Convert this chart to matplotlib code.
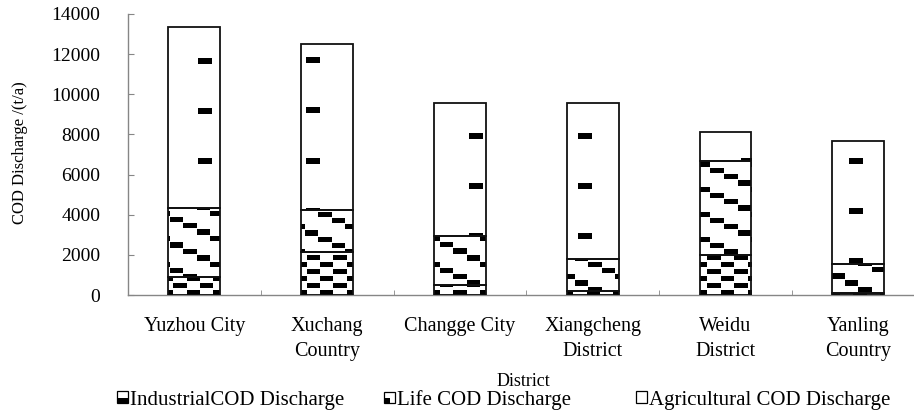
import numpy as np
import matplotlib
matplotlib.use("Agg")
import matplotlib.pyplot as plt
from matplotlib.patches import Rectangle
from matplotlib.legend_handler import HandlerBase

districts = ["Yuzhou City", "Xuchang\nCountry", "Changge City", "Xiangcheng\nDistrict",
             "Weidu\nDistrict", "Yanling\nCountry"]
industrial = [880, 2130, 500, 215, 1990, 100]
life = [3470, 2090, 2450, 1580, 4670, 1450]
agricultural = [9000, 8300, 6600, 7750, 1440, 6100]
series_names = ["IndustrialCOD Discharge", "Life COD Discharge", "Agricultural COD Discharge"]
yticks = [0, 2000, 4000, 6000, 8000, 10000, 12000, 14000]

plt.rcParams['font.family'] = ['Liberation Serif', 'DejaVu Serif']

W, H = 914, 413
fig = plt.figure(figsize=(W / 100, H / 100), dpi=100)
axL, axR, axT, axB = 128, 914, 14, 295
ax = fig.add_axes([axL / W, (H - axB) / H, (axR - axL) / W, (axB - axT) / H])
xmin, xmax = -0.5, 5.42
ax.set_xlim(xmin, xmax)
ax.set_ylim(0, 14000)

# texture patterns in figure-pixel coordinates
nx, ny = axR - axL, axB - axT
X, Y = np.meshgrid(np.arange(nx) + axL + 0.5, np.arange(ny) + axT + 0.5)

k = np.floor((X - 198) / 54.25)
dx = X - 198 - 54.25 * k
pat_agri = (dx < 14) & (np.mod(Y - 58 - 25 * k, 50) < 6)

k = np.floor((X - 170) / 13.5)
pat_life = np.mod(Y - 218 - 6.25 * k, 25) < 5.2

c = np.floor((X - 306.7) / 13.33).astype(int)
rowA = np.mod(Y - 255, 14) < 5.4
rowB = np.mod(Y - 262, 14) < 5.4
pat_ind = (rowA & (c % 2 == 0)) | (rowB & (c % 2 == 1))

def rgba(p):
    a = np.zeros(p.shape + (4,))
    a[p] = [0, 0, 0, 1]
    return a

x = np.arange(len(districts))
width = 0.39
bottoms = [np.zeros(len(x)), np.array(industrial, float),
           np.array(industrial, float) + np.array(life, float)]
for vals, bot, pat in zip([industrial, life, agricultural], bottoms,
                          [pat_ind, pat_life, pat_agri]):
    bars = ax.bar(x, vals, width, bottom=bot, color="white", edgecolor="none", zorder=2)
    img = rgba(pat)
    for b in bars:
        im = ax.imshow(img, extent=[xmin, xmax, 0, 14000], aspect="auto",
                       interpolation="nearest", origin="upper", zorder=3)
        im.set_clip_path(b)
    ax.bar(x, vals, width, bottom=bot, fill=False, edgecolor="#111111",
           linewidth=1.3, zorder=4)
ax.set_xlim(xmin, xmax)
ax.set_ylim(0, 14000)

for s in ["top", "right"]:
    ax.spines[s].set_visible(False)
for s in ["left", "bottom"]:
    ax.spines[s].set_color("#868686")
    ax.spines[s].set_linewidth(1.0)

ax.set_yticks(yticks)
ax.set_yticklabels([str(v) for v in yticks], fontsize=14)
ax.tick_params(axis="y", direction="in", length=4.5, color="#868686", pad=20)
ax.set_xticks(x)
ax.set_xticklabels(districts, fontsize=14.5, linespacing=1.4, va="top")
ax.tick_params(axis="x", which="major", length=0, pad=16)
ax.set_xticks(np.arange(0.5, 5.0, 1.0), minor=True)
ax.tick_params(axis="x", which="minor", direction="in", length=3.5, color="#868686")

fig.text(20 / W, 1 - 153 / H, "COD Discharge /(t/a)", rotation=90, fontsize=12,
         ha="center", va="center")
fig.text(523 / W, 1 - 381 / H, "District", fontsize=13, ha="center", va="center")


class Icon(HandlerBase):
    def __init__(self, frac, left_only=False):
        super().__init__()
        self.frac = frac
        self.left_only = left_only

    def create_artists(self, legend, orig_handle, xdescent, ydescent, width, height,
                       fontsize, trans):
        s = height * 0.95
        x0 = -xdescent + (width - s) / 2
        y0 = -ydescent + (height - s) / 2
        arts = [Rectangle((x0, y0), s, s, facecolor="white", edgecolor="black",
                          linewidth=0.9, transform=trans)]
        if self.frac > 0:
            w = s * (0.6 if self.left_only else 1.0)
            arts.append(Rectangle((x0, y0), w, s * self.frac, facecolor="black",
                                  edgecolor="none", transform=trans))
        return arts


handles = [Rectangle((0, 0), 1, 1) for _ in range(3)]
icons = [Icon(0.45), Icon(0.45, True), Icon(0)]
starts = [117, 384, 636]
for h, name, icon, xs in zip(handles, series_names, icons, starts):
    fig.legend([h], [name], loc="center left", bbox_to_anchor=(xs / W, 1 - 400 / H),
               frameon=False, fontsize=15, handlelength=0.5, handleheight=0.5,
               handletextpad=0.12, borderpad=0, borderaxespad=0,
               handler_map={h: icon})

fig.savefig("out.png", dpi=100)
